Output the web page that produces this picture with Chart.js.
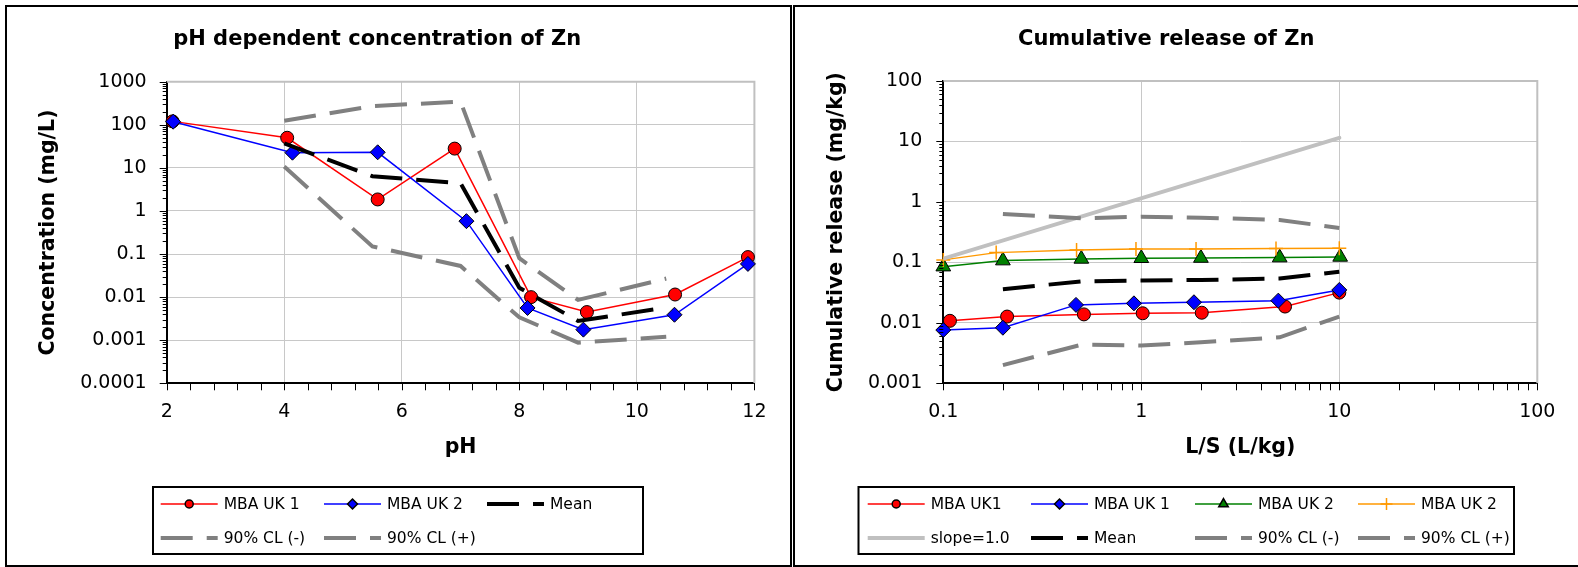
<!DOCTYPE html>
<html>
<head>
<meta charset="utf-8">
<script src="https://cdn.jsdelivr.net/npm/chart.js@4/dist/chart.umd.min.js"></script>
<style>
  html, body { margin: 0; padding: 0; background: #fff; }
  body { position: relative; width: 1578px; height: 567px; overflow: hidden; }
  .panel { position: absolute; box-sizing: border-box; border: 2px solid #000; background: #fff; }
  canvas { position: absolute; top: 0; }
</style>
</head>
<body>
<div class="panel" style="left:5px; top:5px; width:787px; height:562px;"></div>
<div class="panel" style="left:793px; top:5px; width:820px; height:562px;"></div>
<canvas id="phChart" width="790" height="567" style="left:0px;"></canvas>
<canvas id="lsChart" width="783" height="567" style="left:795px;"></canvas>
<script>
// ---- pH dependent test: Zn concentration (mg/L) ----
const phUK1   = [2.10, 4.05, 5.59, 6.90, 8.20, 9.15, 10.65, 11.89];
const concUK1 = [120, 50, 1.85, 28, 0.010, 0.0045, 0.0115, 0.085];
const phUK2   = [2.11, 4.14, 5.59, 7.10, 8.14, 9.09, 10.64, 11.89];
const concUK2 = [118, 22.5, 23, 0.58, 0.0056, 0.00176, 0.0039, 0.059];
const phStats    = [4, 5.5, 7, 8, 9, 10.5];
const concMean   = [37, 6.4, 4.4, 0.0165, 0.0028, 0.0057];
const concCLlow  = [10.7, 0.15, 0.053, 0.0034, 0.00088, 0.0012];
const concCLhigh = [124, 272, 344, 0.08, 0.0086, 0.027];
const phTickValues   = [2, 4, 6, 8, 10, 12];
const concTickValues = [0.0001, 0.001, 0.01, 0.1, 1, 10, 100, 1000];
const concTickLabels = ['0.0001', '0.001', '0.01', '0.1', '1', '10', '100', '1000'];

// ---- Percolation test: cumulative release of Zn (mg/kg) ----
const lsUK1a  = [0.108, 0.21, 0.513, 1.016, 2.02, 5.32, 10.0];
const cumUK1a = [0.0108, 0.0127, 0.0138, 0.0144, 0.0147, 0.0186, 0.0316];
const lsUK1b  = [0.1, 0.2, 0.468, 0.918, 1.845, 4.92, 10.0];
const cumUK1b = [0.0076, 0.0083, 0.0198, 0.021, 0.0219, 0.0233, 0.035];
const lsUK2a  = [0.1, 0.2, 0.498, 1.0, 2.0, 5.0, 10.1];
const cumUK2a = [0.085, 0.107, 0.114, 0.117, 0.118, 0.12, 0.123];
const lsUK2b  = [0.1, 0.185, 0.471, 0.94, 1.89, 4.79, 10.0];
const cumUK2b = [0.11, 0.145, 0.16, 0.167, 0.167, 0.169, 0.171];
const lsSlope  = [0.1, 10];
const cumSlope = [0.115, 11.5];
const lsStats     = [0.2, 0.5, 1, 2, 5, 10];
const cumMean     = [0.036, 0.0486, 0.05, 0.0512, 0.054, 0.07];
const cumCLlow    = [0.002, 0.00436, 0.0042, 0.00476, 0.00577, 0.0127];
const cumCLhigh   = [0.63, 0.536, 0.57, 0.549, 0.502, 0.371];
const lsTickValues  = [0.1, 1, 10, 100];
const lsTickLabels  = ['0.1', '1', '10', '100'];
const cumTickValues = [0.001, 0.01, 0.1, 1, 10, 100];
const cumTickLabels = ['0.001', '0.01', '0.1', '1', '10', '100'];

const FONT = 'DejaVu Sans';
const GRID = '#c8c8c8';
const FRAME = '#c0c0c0';
const DASH = [32, 14];

Chart.defaults.font.family = FONT;
Chart.defaults.font.size = 19;
Chart.defaults.color = '#000';

const pts = (xs, ys) => xs.map((x, i) => ({ x, y: ys[i] }));

function markerSeries(label, xs, ys, color, style, radius, extra) {
  return Object.assign({
    label, data: pts(xs, ys),
    borderColor: color, borderWidth: 1.5,
    pointStyle: style, pointRadius: radius, pointHoverRadius: radius,
    pointBackgroundColor: color, pointBorderColor: '#000', pointBorderWidth: 1,
    legendRadius: 4.5, clip: false, tension: 0
  }, extra || {});
}
function dashedSeries(label, xs, ys, color) {
  return {
    label, data: pts(xs, ys), borderColor: color, borderWidth: 4,
    borderDash: DASH, borderCapStyle: 'butt', pointRadius: 0, tension: 0
  };
}

// later series are painted above earlier ones
function stackOrder(datasets) {
  datasets.forEach((d, i) => { d.order = datasets.length - i; });
  return datasets;
}

// log tick marks: 1..9 x each decade
function logTickMarks(lo, hi) {
  const out = [];
  const e0 = Math.round(Math.log10(lo)), e1 = Math.round(Math.log10(hi));
  for (let e = e0; e < e1; e++) for (let k = 1; k < 10; k++) out.push({ v: k * Math.pow(10, e), major: k === 1 });
  out.push({ v: hi, major: true });
  return out;
}
function linTickMarks(lo, hi, step) {
  const out = [];
  const n = Math.round((hi - lo) / step);
  for (let i = 0; i <= n; i++) out.push({ v: lo + i * step, major: true });
  return out;
}

// plot frame (grey top/right edge) and outside tick marks
const axisMarks = {
  id: 'axisMarks',
  beforeDatasetsDraw(chart) {
    const { ctx, chartArea: a } = chart;
    ctx.save();
    ctx.strokeStyle = FRAME; ctx.lineWidth = 2;
    ctx.beginPath();
    ctx.moveTo(a.left, a.top); ctx.lineTo(a.right, a.top); ctx.lineTo(a.right, a.bottom);
    ctx.stroke();
    ctx.restore();
  },
  afterDraw(chart, args, opts) {
    const { ctx, chartArea: a, scales } = chart;
    ctx.save();
    ctx.strokeStyle = '#000'; ctx.lineWidth = 1;
    ctx.beginPath();
    opts.y.forEach(t => {
      const y = Math.round(scales.y.getPixelForValue(t.v)) + 0.5;
      const len = t.major ? 7 : 4;
      ctx.moveTo(a.left - len, y); ctx.lineTo(a.left, y);
    });
    opts.x.forEach(t => {
      const x = Math.round(scales.x.getPixelForValue(t.v)) + 0.5;
      ctx.moveTo(x, a.bottom); ctx.lineTo(x, a.bottom + 7);
    });
    ctx.stroke();
    ctx.restore();
  }
};

// boxed two-row legend with line samples and markers
const boxLegend = {
  id: 'boxLegend',
  afterDraw(chart, args, opts) {
    const { ctx } = chart;
    const [bx, by, bw, bh] = opts.box;
    ctx.save();
    ctx.strokeStyle = '#000'; ctx.lineWidth = 2;
    ctx.strokeRect(bx, by, bw, bh);
    ctx.font = '15.5px "' + FONT + '"';
    ctx.textBaseline = 'middle';
    ctx.fillStyle = '#000';
    opts.items.forEach(([di, col, row]) => {
      const ds = chart.data.datasets[di];
      const x = opts.cols[col], y = opts.rows[row];
      ctx.save();
      ctx.strokeStyle = ds.borderColor;
      ctx.lineWidth = ds.borderWidth;
      ctx.lineCap = 'butt';
      ctx.setLineDash(ds.borderDash || []);
      ctx.beginPath(); ctx.moveTo(x, y); ctx.lineTo(x + 57, y); ctx.stroke();
      ctx.setLineDash([]);
      if (ds.pointRadius > 0) {
        ctx.fillStyle = ds.pointBackgroundColor;
        ctx.strokeStyle = ds.pointStyle === 'cross' ? ds.pointBorderColor : '#000';
        Chart.helpers.drawPoint(ctx, {
          pointStyle: ds.pointStyle, rotation: 0,
          radius: ds.legendRadius, borderWidth: ds.pointBorderWidth
        }, x + 28.5, y);
      }
      ctx.restore();
      ctx.fillText(ds.label, x + 63, y + 1);
    });
    ctx.restore();
  }
};

const TICK_FONT = { family: FONT, size: 19 };
const AXIS_TITLE_FONT = { family: FONT, size: 20.5, weight: 'bold' };
const TITLE_FONT = { family: FONT, size: 21, weight: 'bold' };

function scaleCommon(fixed, isY) {
  return {
    afterFit: s => { if (isY) s.width = fixed; else s.height = fixed; },
    grid: { color: GRID, lineWidth: 1, drawTicks: false },
    border: { display: true, color: '#000', width: 2 },
  };
}

// ---------- left chart ----------
const phDatasets = stackOrder([
  markerSeries('MBA UK 1', phUK1, concUK1, '#ff0000', 'circle', 6.5, { legendRadius: 4 }),
  markerSeries('MBA UK 2', phUK2, concUK2, '#0000ff', 'rectRot', 7.5, { legendRadius: 5 }),
  dashedSeries('Mean', phStats, concMean, '#000000'),
  dashedSeries('90% CL (-)', phStats, concCLlow, '#808080'),
  dashedSeries('90% CL (+)', phStats, concCLhigh, '#808080')
]);

new Chart(document.getElementById('phChart'), {
  type: 'line',
  data: { datasets: phDatasets },
  plugins: [axisMarks, boxLegend],
  options: {
    responsive: false, animation: false, devicePixelRatio: 1,
    layout: { padding: { left: 0, right: 35.6, top: 0, bottom: 103.7 } },
    plugins: {
      legend: { display: false },
      tooltip: { enabled: false },
      title: {
        display: true, text: 'pH dependent concentration of Zn', color: '#000',
        font: TITLE_FONT,
        padding: { top: 27.4, bottom: 29.1 }
      },
      axisMarks: {
        y: logTickMarks(0.0001, 1000),
        x: linTickMarks(2, 12, 0.4)
      },
      boxLegend: {
        box: [153, 487, 490, 67],
        cols: [160.7, 324, 487],
        rows: [504, 538],
        items: [[0, 0, 0], [1, 1, 0], [2, 2, 0], [3, 0, 1], [4, 1, 1]]
      }
    },
    scales: {
      x: Object.assign(scaleCommon(80, false), {
        type: 'linear', min: 2, max: 12,
        afterBuildTicks: s => { s.ticks = phTickValues.map(v => ({ value: v })); },
        ticks: { color: '#000', font: TICK_FONT, padding: 17, maxRotation: 0, autoSkip: false },
        title: { display: true, text: 'pH', color: '#000', font: AXIS_TITLE_FONT, padding: { top: 0, bottom: 3 } }
      }),
      y: Object.assign(scaleCommon(166.7, true), {
        type: 'logarithmic', min: 0.0001, max: 1000,
        afterBuildTicks: s => { s.ticks = concTickValues.map(v => ({ value: v })); },
        ticks: {
          color: '#000', font: TICK_FONT, padding: 20, autoSkip: false,
          major: { enabled: false },
          callback: (v, i) => concTickLabels[i]
        },
        title: { display: true, text: 'Concentration (mg/L)', color: '#000', font: AXIS_TITLE_FONT, padding: { top: 36.7, bottom: 0 } }
      })
    }
  }
});

// ---------- right chart ----------
const lsDatasets = stackOrder([
  markerSeries('MBA UK1', lsUK1a, cumUK1a, '#ff0000', 'circle', 6.5, { legendRadius: 4 }),
  markerSeries('MBA UK 1', lsUK1b, cumUK1b, '#0000ff', 'rectRot', 7.5, { legendRadius: 5 }),
  markerSeries('MBA UK 2', lsUK2a, cumUK2a, '#008000', 'triangle', 8.5, { legendRadius: 5.5 }),
  markerSeries('MBA UK 2', lsUK2b, cumUK2b, '#ff9900', 'cross', 7, { pointBorderColor: '#ff9900', pointBorderWidth: 1.5, legendRadius: 6 }),
  { label: 'slope=1.0', data: pts(lsSlope, cumSlope), borderColor: '#c0c0c0', borderWidth: 4, pointRadius: 0, tension: 0, borderCapStyle: 'round' },
  dashedSeries('Mean', lsStats, cumMean, '#000000'),
  dashedSeries('90% CL (-)', lsStats, cumCLlow, '#808080'),
  dashedSeries('90% CL (+)', lsStats, cumCLhigh, '#808080')
]);

new Chart(document.getElementById('lsChart'), {
  type: 'line',
  data: { datasets: lsDatasets },
  plugins: [axisMarks, boxLegend],
  options: {
    responsive: false, animation: false, devicePixelRatio: 1,
    layout: { padding: { left: 0, right: 40.7, top: 0, bottom: 103.7 } },
    plugins: {
      legend: { display: false },
      tooltip: { enabled: false },
      title: {
        display: true, text: 'Cumulative release of Zn', color: '#000',
        font: TITLE_FONT,
        padding: { top: 27.4, bottom: 28.4 }
      },
      axisMarks: {
        y: logTickMarks(0.001, 100),
        x: logTickMarks(0.1, 100)
      },
      boxLegend: {
        box: [63.5, 487, 655.5, 67],
        cols: [72.7, 236, 400, 563],
        rows: [504, 538],
        items: [[0, 0, 0], [1, 1, 0], [2, 2, 0], [3, 3, 0], [4, 0, 1], [5, 1, 1], [6, 2, 1], [7, 3, 1]]
      }
    },
    scales: {
      x: Object.assign(scaleCommon(80, false), {
        type: 'logarithmic', min: 0.1, max: 100,
        afterBuildTicks: s => { s.ticks = lsTickValues.map(v => ({ value: v })); },
        ticks: {
          color: '#000', font: TICK_FONT, padding: 17, maxRotation: 0, autoSkip: false,
          major: { enabled: false },
          callback: (v, i) => lsTickLabels[i]
        },
        title: { display: true, text: 'L/S (L/kg)', color: '#000', font: AXIS_TITLE_FONT, padding: { top: 0, bottom: 3 } }
      }),
      y: Object.assign(scaleCommon(148.3, true), {
        type: 'logarithmic', min: 0.001, max: 100,
        afterBuildTicks: s => { s.ticks = cumTickValues.map(v => ({ value: v })); },
        ticks: {
          color: '#000', font: TICK_FONT, padding: 21, autoSkip: false,
          major: { enabled: false },
          callback: (v, i) => cumTickLabels[i]
        },
        title: { display: true, text: 'Cumulative release (mg/kg)', color: '#000', font: AXIS_TITLE_FONT, padding: { top: 29.7, bottom: 0 } }
      })
    }
  }
});
</script>
</body>
</html>
